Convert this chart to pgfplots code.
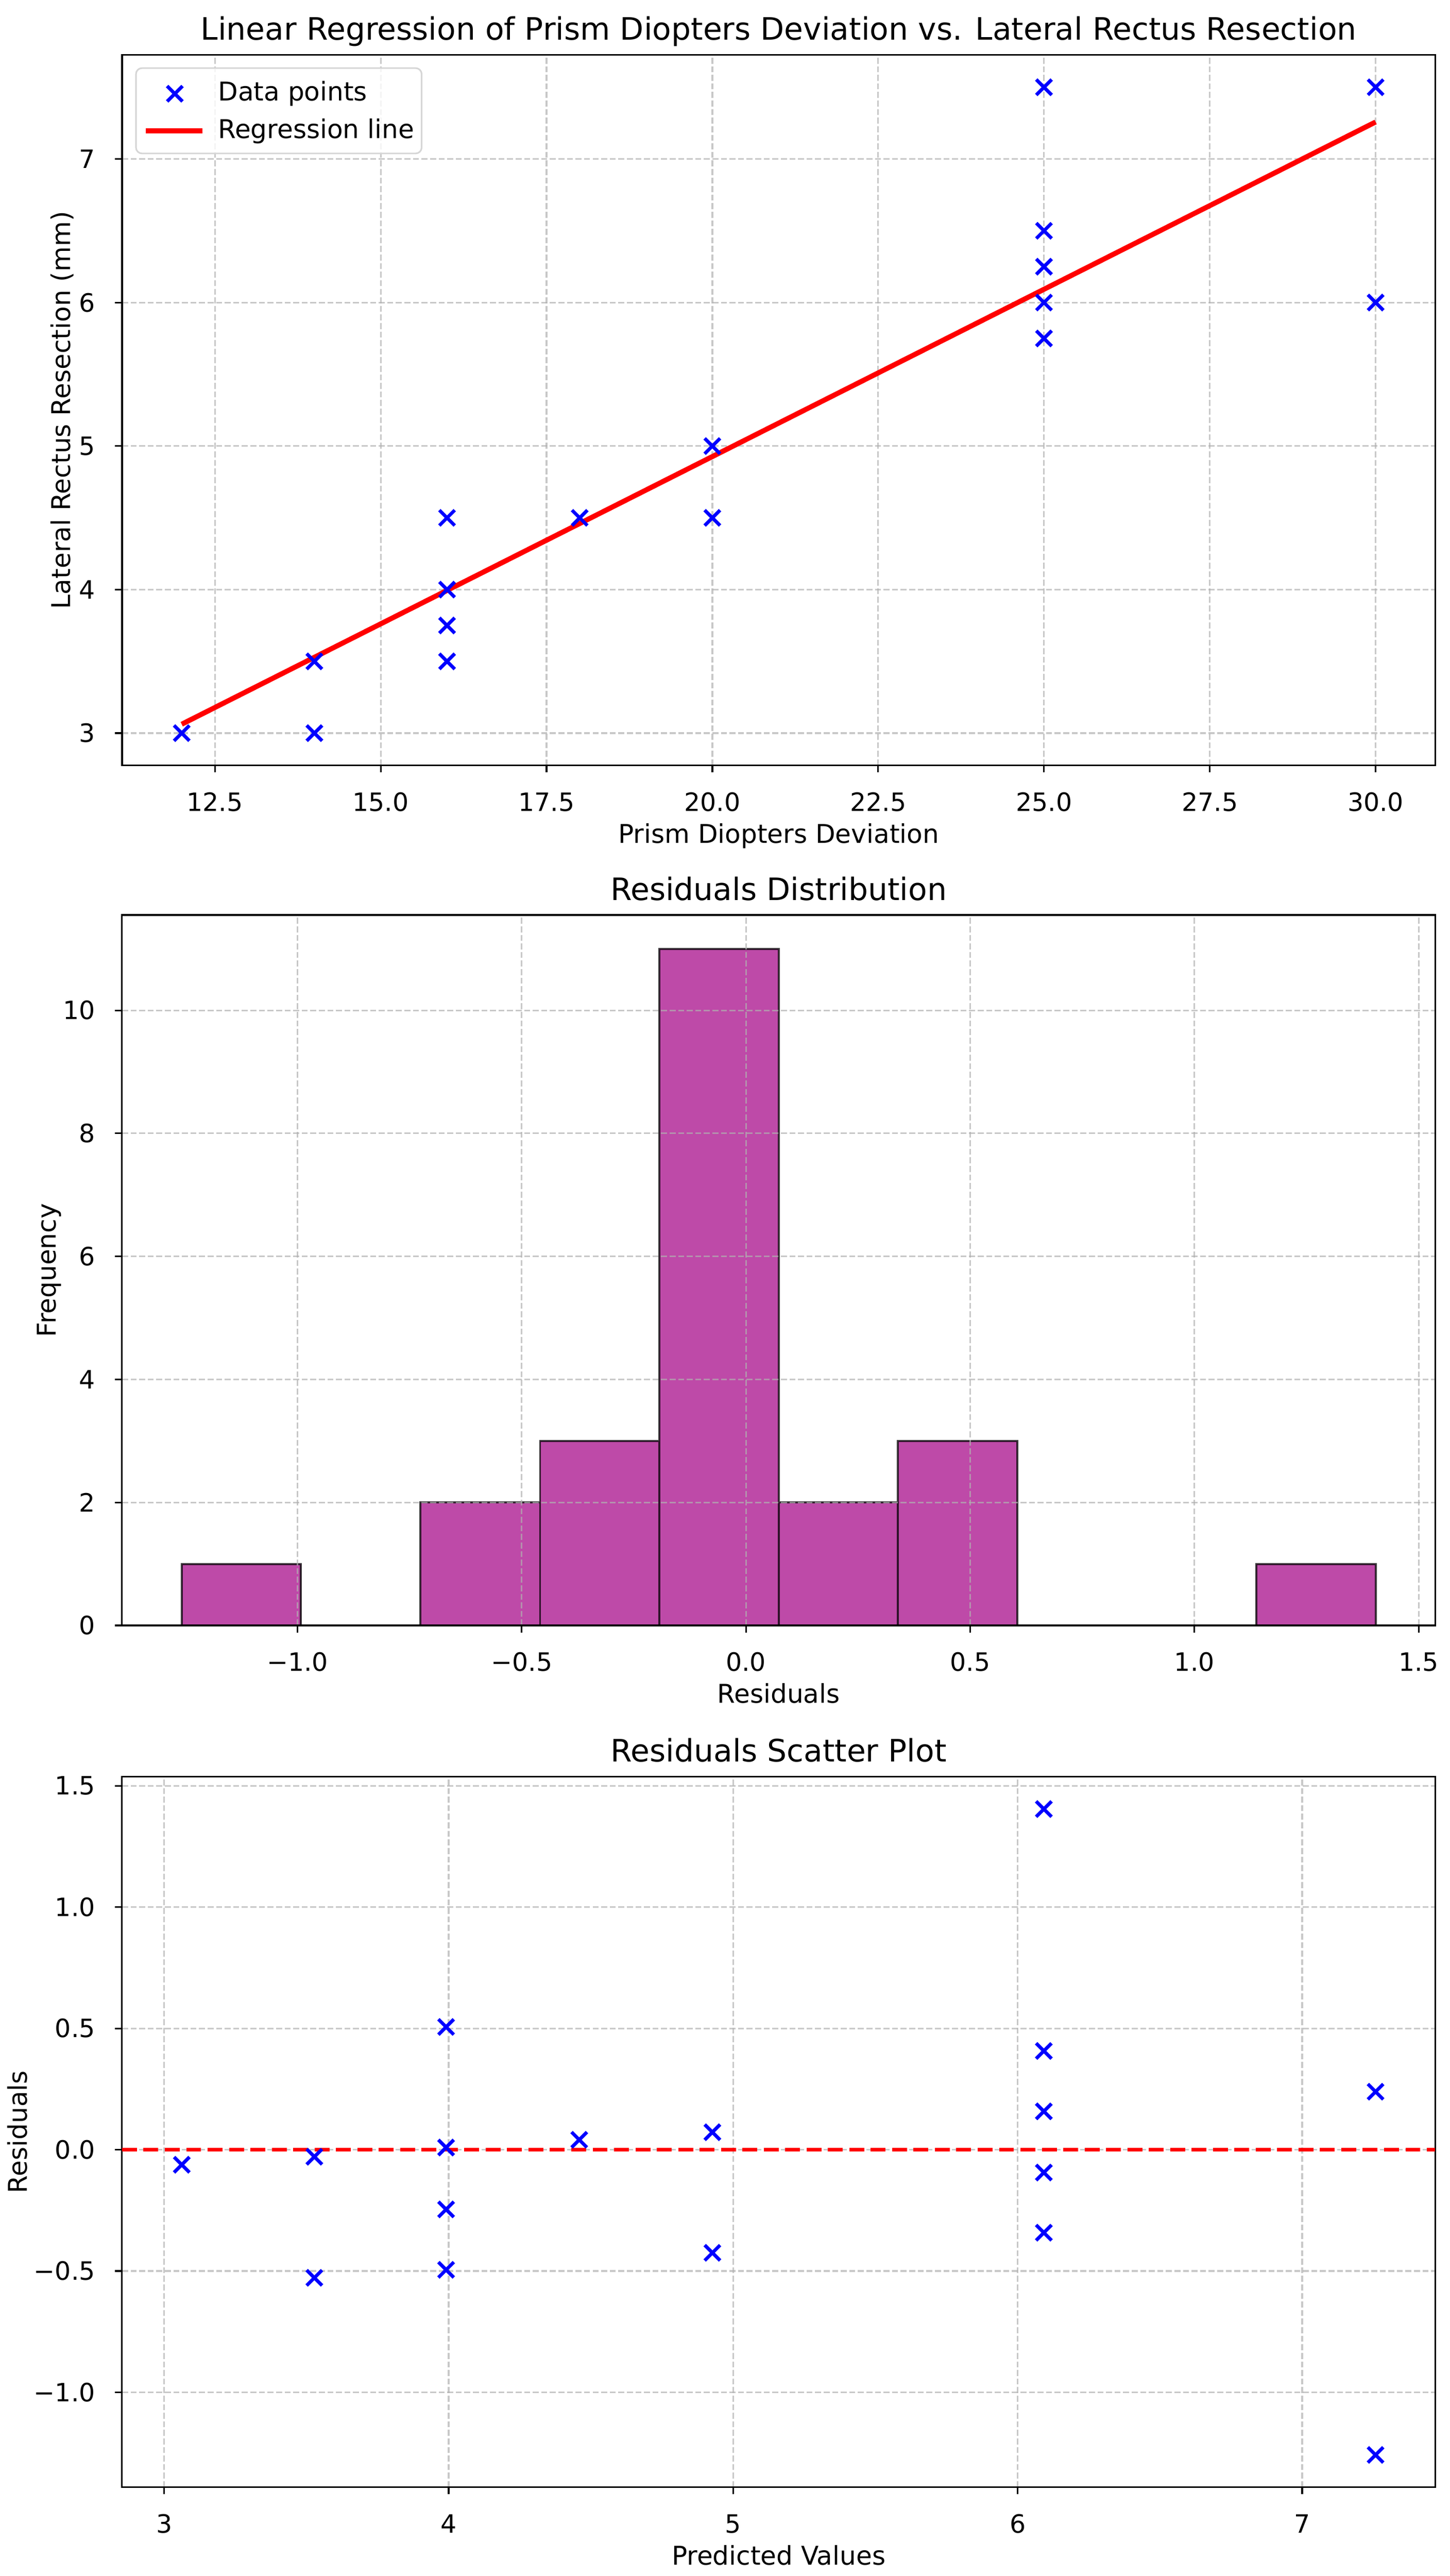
\documentclass[border=0pt]{standalone}
\usepackage{fontspec}
\setmainfont{DejaVu Sans}
\usepackage{pgfplots}
\pgfplotsset{compat=1.18}
\definecolor{barc}{RGB}{190,74,168}
\definecolor{gridc}{RGB}{176,176,176}
\definecolor{mplblue}{RGB}{0,0,255}
\definecolor{mplred}{RGB}{255,0,0}
\pgfplotsset{
  scatleg/.style={legend image code/.code={\path[draw=none,fill=none] (0pt,3.4pt) -- (28pt,3.4pt); \draw[##1] plot coordinates {(14.3pt,3.4pt)};}},
  lineleg/.style={legend image code/.code={\draw[##1] (0pt,3.6pt) -- (28pt,3.6pt);}},
  mpl/.style={
    scale only axis, width=650.8pt, height=352pt,
    axis line style={line width=0.8pt, black},
    tick align=outside, tick pos=left,
    major tick length=3.5pt,
    major tick style={line width=0.8pt, black},
    grid=major,
    major grid style={line width=0.8pt, draw=gridc, draw opacity=0.7, dash pattern=on 2.96pt off 1.28pt},
    /pgf/number format/assume math mode=true,
    tick label style={font=\fontsize{12.5}{15}\selectfont, inner sep=0pt},
    xticklabel style={anchor=base, yshift=-19.2pt},
    yticklabel style={anchor=east, xshift=-9.6pt},
    label style={font=\fontsize{12.8}{15.4}\selectfont},
    title style={font=\fontsize{15.3}{18.4}\selectfont, at={(axis description cs:0.5,1)}, anchor=base, yshift=1.4pt, inner sep=0pt},
    xlabel style={at={(axis description cs:0.5,0)}, anchor=base, yshift=-38.5pt, inner sep=0pt},
    clip=false,
  }
}
\begin{document}
\begin{tikzpicture}
\useasboundingbox (0pt,0pt) rectangle (718.32pt,-1276.32pt);

% ---------- Panel 1 ----------
\begin{axis}[mpl,
  at={(60.48pt,-27.24pt)}, anchor=north west,
  xmin=11.1, xmax=30.9, ymin=2.775, ymax=7.725,
  xtick={12.5,15,17.5,20,22.5,25,27.5,30},
  xticklabels={12.5,15.0,17.5,20.0,22.5,25.0,27.5,30.0},
  ytick={3,4,5,6,7}, yticklabels={3,4,5,6,7},
  title={Linear Regression of Prism Diopters Deviation vs. Lateral Rectus Resection},
  xlabel={Prism Diopters Deviation},
  ylabel={Lateral Rectus Resection (mm)},
  ylabel style={at={(axis description cs:-0.0392,0.5)}, anchor=base, inner sep=0pt},
  legend style={at={(axis description cs:0,1)}, anchor=north west, xshift=6.5pt, yshift=-6.1pt,
    draw=black!16, line width=0.8pt, fill=white, fill opacity=0.8, text opacity=1,
    rounded corners=3pt, inner xsep=3.7pt, inner ysep=4.6pt,
    column sep=6.5pt, row sep=4.1pt,
    font=\fontsize{12.8}{15.4}\selectfont,
    nodes={inner sep=0pt, text height=11.5pt, text depth=3pt, anchor=base west}},
]
\addplot[only marks, mark=x, mark size=5.4pt, color=mplblue, mark options={solid, line width=1.7pt}, scatleg]
  coordinates {(12,3) (14,3.5) (14,3) (16,4.5) (16,4) (16,3.75) (16,3.5) (18,4.5) (20,5) (20,4.5)
  (25,7.5) (25,6.5) (25,6.25) (25,6) (25,5.75) (30,7.5) (30,6)};
\addlegendentry{Data points}
\addplot[color=mplred, line width=2.5pt, no marks, lineleg]
  coordinates {(12,3.062) (30,7.258)};
\addlegendentry{Regression line}
\end{axis}

% ---------- Panel 2 ----------
\begin{axis}[mpl,
  at={(60.48pt,-453.36pt)}, anchor=north west,
  axis on top,
  xmin=-1.3911, xmax=1.5371, ymin=0, ymax=11.55,
  xtick={-1,-0.5,0,0.5,1,1.5},
  xticklabels={−1.0,−0.5,0.0,0.5,1.0,1.5},
  ytick={0,2,4,6,8,10}, yticklabels={0,2,4,6,8,10},
  title={Residuals Distribution},
  xlabel={Residuals},
  ylabel={Frequency},
  ylabel style={at={(axis description cs:-0.0504,0.5)}, anchor=base, inner sep=0pt},
]
\addplot[ybar interval, fill=barc, draw=black, draw opacity=0.75, line width=1pt]
  coordinates {(-1.258,1) (-0.992,0) (-0.726,2) (-0.459,3) (-0.193,11) (0.073,2)
  (0.339,3) (0.605,0) (0.871,0) (1.138,1) (1.404,0)};
\end{axis}

% ---------- Panel 3 ----------
\begin{axis}[mpl,
  at={(60.48pt,-880.32pt)}, anchor=north west,
  xmin=2.852, xmax=7.468, ymin=-1.3911, ymax=1.5371,
  xtick={3,4,5,6,7}, xticklabels={3,4,5,6,7},
  ytick={-1,-0.5,0,0.5,1,1.5},
  yticklabels={−1.0,−0.5,0.0,0.5,1.0,1.5},
  title={Residuals Scatter Plot},
  xlabel={Predicted Values},
  ylabel={Residuals},
  ylabel style={at={(axis description cs:-0.0722,0.5)}, anchor=base, inner sep=0pt},
]
\addplot[only marks, mark=x, mark size=5.4pt, color=mplblue, mark options={solid, line width=1.7pt}]
  coordinates {(3.062,-0.062) (3.528,-0.029) (3.528,-0.528) (3.991,0.506) (3.991,0.009)
  (3.991,-0.246) (3.991,-0.495) (4.459,0.041) (4.927,0.072) (4.927,-0.425)
  (6.092,1.404) (6.092,0.407) (6.092,0.158) (6.092,-0.094) (6.092,-0.342)
  (7.258,0.239) (7.258,-1.258)};
\addplot[color=mplred, line width=2pt, dash pattern=on 7.4pt off 3.2pt, no marks]
  coordinates {(2.852,0) (7.468,0)};
\end{axis}
\end{tikzpicture}
\end{document}
